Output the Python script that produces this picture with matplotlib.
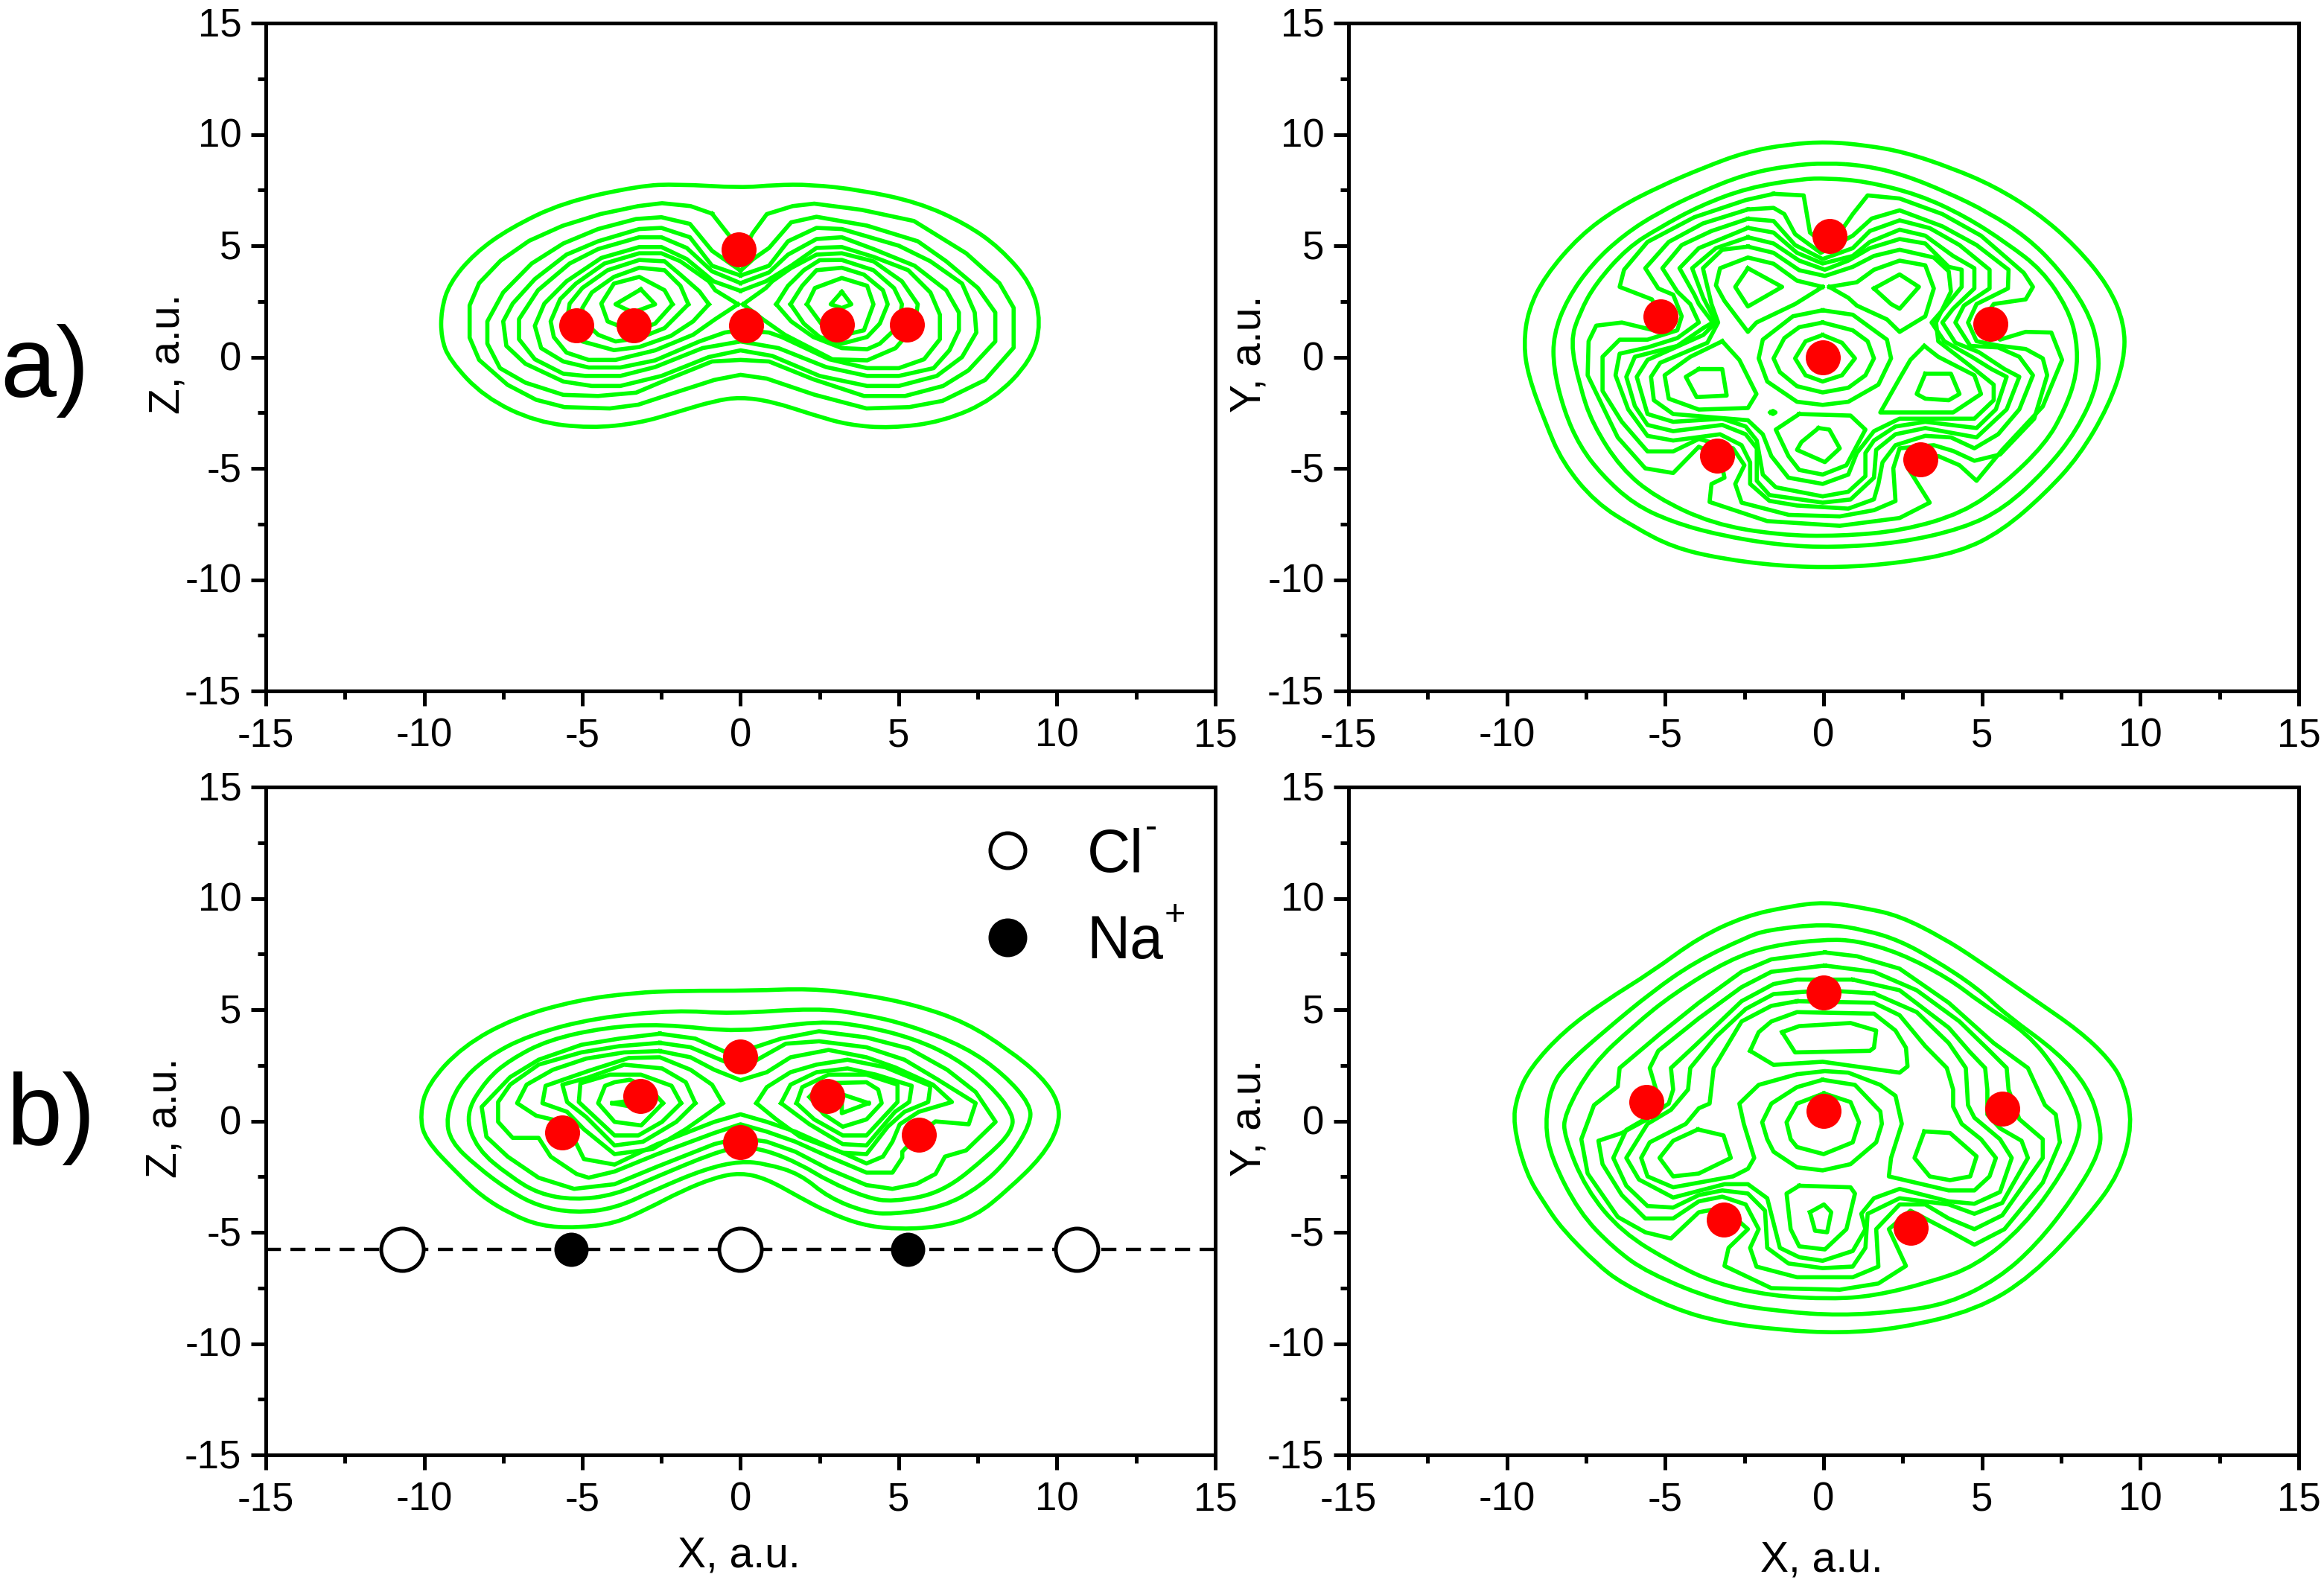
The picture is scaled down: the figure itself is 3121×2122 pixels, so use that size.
import matplotlib
matplotlib.use("Agg")
import matplotlib.pyplot as plt
from matplotlib.ticker import MultipleLocator
from matplotlib.path import Path
from matplotlib.patches import PathPatch
from matplotlib.transforms import ScaledTranslation

plt.rcParams['font.family'] = ['Liberation Sans', 'DejaVu Sans']
plt.rcParams['axes.unicode_minus'] = False

# ---- Contours, (x, y) in a.u. ----
xz_a = [
 [(0,7.6),(-2.0,7.77),(-3.2,7.69),(-5.6,6.95),(-7.3,5.78),(-8.4,4.66),(-9.2,3.32),(-9.46,2.1),(-9.46,0.87),(-9.2,-0.13),(-8.1,-1.8),(-6.46,-2.92),(-4.74,-3.2),(-3.2,-2.97),(-2.0,-2.47),(-0.83,-1.97),(0,-1.8),(1.0,-2.0),(2.3,-2.6),(3.4,-3.05),(4.74,-3.2),(6.4,-2.9),(8.0,-1.9),(9.2,-0.13),(9.5,1.54),(9.2,3.27),(8.2,4.9),(7.1,6.0),(5.6,6.95),(3.8,7.5),(2.2,7.75),(1.1,7.73)],
 [(-0.9,6.44),(-1.58,6.78),(-2.48,6.91),(-3.23,6.78),(-4.43,6.42),(-5.63,5.89),(-6.68,5.22),(-7.58,4.33),(-8.26,3.32),(-8.56,2.32),(-8.56,0.87),(-8.26,-0.13),(-7.36,-1.25),(-6.46,-1.92),(-5.56,-2.25),(-4.13,-2.31),(-3.23,-2.14),(-2.03,-1.58),(-0.83,-1.03),(0,-0.8),(0.83,-0.97),(2.33,-1.69),(3.98,-2.31),(5.33,-2.25),(6.38,-1.97),(7.73,-1.03),(8.63,0.42),(8.63,2.21),(8.18,3.32),(7.13,4.66),(5.48,6.11),(3.83,6.61),(2.33,6.89),(1.65,6.78),(0.83,6.42),(0.38,5.55),(0,4.55),(-0.38,5.5)],
 [(0,3.88),(-0.9,4.77),(-1.6,5.98),(-2.5,6.28),(-3.3,6.2),(-4.5,5.75),(-5.6,5.1),(-6.6,4.2),(-7.5,2.9),(-8.0,1.6),(-8.0,0.6),(-7.6,-0.5),(-6.8,-1.15),(-5.6,-1.7),(-4.5,-1.75),(-3.3,-1.6),(-2.3,-1.0),(-0.9,-0.2),(0,-0.13),(0.9,-0.2),(2.3,-1.0),(3.9,-1.75),(5.2,-1.75),(6.4,-1.3),(7.2,-0.6),(8.05,0.7),(8.05,2.0),(7.5,3.1),(6.5,4.3),(5.6,5.2),(4.0,5.9),(2.4,6.3),(1.6,6.05),(0.9,4.9),(0.4,4.4)],
 [(0,3.66),(-0.9,4.1),(-1.6,5.38),(-2.5,5.8),(-3.2,5.75),(-4.5,5.2),(-5.5,4.6),(-6.5,3.5),(-7.2,2.4),(-7.5,1.6),(-7.4,0.5),(-6.8,-0.3),(-5.6,-1.1),(-4.7,-1.3),(-3.8,-1.3),(-2.5,-0.85),(-1.0,0.0),(0,0.3),(1.0,0.05),(2.5,-0.85),(4.0,-1.3),(5.0,-1.3),(6.2,-0.85),(7.0,0),(7.45,1.1),(7.4,2.0),(7.0,3.3),(6.0,4.3),(5.0,5.0),(3.2,5.75),(2.4,5.8),(1.5,5.2),(0.9,4.1)],
 [(0,3.32),(-0.9,3.85),(-1.7,4.9),(-2.5,5.38),(-3.2,5.38),(-4.5,4.85),(-5.4,4.2),(-6.4,3.0),(-7.0,1.7),(-7.0,0.8),(-6.5,-0.1),(-5.6,-0.75),(-4.9,-0.85),(-3.8,-0.85),(-2.7,-0.45),(-1.2,0.4),(0,0.7),(1.2,0.4),(2.7,-0.45),(4.0,-0.85),(5,-0.85),(6.1,-0.5),(6.6,0.3),(6.9,1.2),(6.9,2.0),(6.5,3.0),(5.5,4.1),(4.2,4.85),(3.2,5.38),(2.4,5.3),(1.5,4.6),(0.9,3.8)],
 [(0,2.97),(-0.85,3.4),(-1.7,4.4),(-2.5,4.94),(-3.2,4.94),(-4.4,4.45),(-5.5,3.4),(-6.2,2.4),(-6.5,1.4),(-6.3,0.4),(-5.6,-0.2),(-4.8,-0.47),(-3.8,-0.47),(-2.7,-0.15),(-1.3,0.7),(-0.5,1.1),(0,1.2),(0.9,1.1),(1.3,0.9),(2.8,-0.1),(4.0,-0.5),(5.0,-0.5),(5.8,-0.1),(6.3,0.8),(6.3,1.9),(6.0,2.9),(5.3,3.9),(4.2,4.5),(3.2,4.94),(2.4,4.9),(1.6,4.1),(0.8,3.4)],
 [(-0.08,2.37),(-0.8,3.0),(-1.0,3.4),(-1.9,4.3),(-2.5,4.66),(-3.2,4.66),(-4.3,4.2),(-5.2,3.3),(-5.7,2.6),(-6.0,1.6),(-5.9,0.9),(-5.5,0.2),(-4.8,-0.13),(-3.95,-0.13),(-2.7,0.3),(-1.5,1.0),(-0.8,1.7)],
 [(0.08,2.37),(0.8,3.1),(1.0,3.4),(1.6,4.0),(2.4,4.6),(3.2,4.66),(4.2,4.3),(5.1,3.4),(5.6,2.37),(5.5,1.4),(4.9,0.4),(4.0,-0.15),(2.9,-0.1),(1.4,1.0),(0.7,1.7)],
 [(-1.0,2.37),(-1.3,2.95),(-1.9,3.7),(-2.4,4.3),(-3.2,4.36),(-4.2,3.9),(-5.0,3.1),(-5.4,2.4),(-5.5,1.5),(-5.0,0.7),(-4.0,0.31),(-3.2,0.45),(-2.2,0.95),(-1.5,1.6)],
 [(1.13,2.37),(1.5,3.2),(2.0,3.9),(2.5,4.35),(3.2,4.36),(4.2,3.9),(4.85,3.1),(5.1,2.37),(5.0,1.4),(4.4,0.6),(4.0,0.35),(3.2,0.4),(2.3,0.9),(1.6,1.6)],
 [(-1.65,2.37),(-1.9,3.2),(-2.4,3.9),(-3.2,4.01),(-4.0,3.6),(-4.7,2.9),(-5.0,2.2),(-4.95,1.6),(-4.5,1.0),(-3.95,0.7),(-3.2,0.85),(-2.4,1.3)],
 [(1.58,2.37),(1.95,3.2),(2.4,3.9),(3.2,4.01),(3.9,3.7),(4.5,3.0),(4.65,2.37),(4.4,1.5),(4.0,0.9),(3.2,0.6),(2.5,0.9),(2,1.5)],
 [(-2.15,2.37),(-2.4,3.0),(-3.2,3.6),(-4.0,3.3),(-4.4,2.4),(-4.2,1.6),(-3.4,1.15),(-2.7,1.5)],
 [(2.1,2.37),(2.35,3.1),(3.2,3.55),(4.0,3.2),(4.2,2.37),(3.9,1.2),(3.3,1.0),(2.6,1.4)],
 [(-3.15,3.04),(-2.7,2.37),(-3.4,2.0),(-3.95,2.37)],
 [(3.2,2.93),(3.5,2.37),(3.2,2.2),(2.85,2.37)],
]
xy_a = [
 [(0.11,9.67),(-1.1,9.56),(-2.46,9.21),(-3.8,8.5),(-5.15,7.68),(-6.5,6.7),(-7.7,5.45),(-8.8,3.63),(-9.33,2.1),(-9.47,0.57),(-9.33,-0.82),(-8.8,-2.9),(-8.25,-4.73),(-7.2,-6.54),(-5.95,-7.66),(-4.75,-8.55),(-3.27,-9.05),(-1.38,-9.39),(0.51,-9.46),(2.4,-9.25),(4.3,-8.76),(5.65,-7.79),(7.0,-6.12),(8.07,-4.45),(9.0,-2.2),(9.5,-0.13),(9.5,1.5),(9.0,3.2),(7.95,5.0),(6.73,6.5),(5.38,7.68),(4.03,8.5),(2.54,9.21),(1.33,9.51)],
 [(0.1,8.72),(-1.1,8.6),(-2.5,8.2),(-3.9,7.4),(-5.2,6.5),(-6.3,5.5),(-7.3,4.2),(-8.1,2.6),(-8.53,1.0),(-8.53,-0.5),(-8.2,-2.4),(-7.7,-4.0),(-7.0,-5.3),(-6.0,-6.6),(-4.8,-7.4),(-3.3,-8.0),(-1.4,-8.45),(0.3,-8.56),(2.4,-8.35),(4.4,-7.7),(5.7,-6.8),(7.0,-5.1),(8.0,-3.3),(8.68,-1.2),(8.68,0.6),(8.3,2.2),(7.4,4.0),(6.4,5.4),(5.2,6.5),(3.9,7.4),(2.5,8.2),(1.3,8.6)],
 [(0.1,8.03),(-0.7,8.0),(-2.4,7.6),(-3.9,6.8),(-5.2,5.8),(-6.2,4.9),(-7.2,3.3),(-7.7,2.0),(-8.0,0.7),(-7.7,-1.3),(-7.3,-3.0),(-6.4,-5.0),(-5.3,-6.3),(-3.5,-7.5),(-1.4,-8.0),(0.5,-8.05),(2.5,-7.8),(4.4,-7.0),(5.7,-5.7),(7.0,-3.9),(7.6,-2.4),(8.0,-0.8),(8.0,0.8),(7.7,2.2),(6.9,3.9),(5.8,5.1),(4.5,6.3),(3.0,7.3),(1.3,7.9)],
 [(-1.58,7.33),(-0.63,7.26),(-0.43,5.59),(0.18,4.9),(0.92,6.42),(1.39,7.26),(2.4,7.12),(3.75,6.42),(4.97,5.45),(6.32,3.78),(6.61,3.15),(6.38,2.59),(5.37,2.38),(4.97,1.55),(5.57,0.78),(6.38,1.13),(7.19,1.1),(7.53,-0.13),(6.92,-2.22),(5.64,-4.17),(4.83,-5.56),(4.29,-4.86),(3.62,-4.45),(2.67,-5.0),(3.35,-6.54),(2.4,-7.23),(0.51,-7.58),(-1.78,-7.37),(-3.6,-6.51),(-3.54,-5.7),(-3.13,-5.42),(-3.27,-4.45),(-3.94,-4.03),(-4.75,-5.21),(-5.63,-5.0),(-6.5,-3.61),(-7.45,-0.82),(-7.42,0.71),(-7.18,1.41),(-6.37,1.55),(-5.36,1.2),(-5.16,1.83),(-5.42,2.59),(-6.44,3.15),(-6.3,3.92),(-5.56,5.17),(-4.08,6.28),(-2.46,7.05)],
 [(-2.39,6.63),(-1.58,6.7),(-1.24,6.42),(-0.9,5.52),(-0.09,4.68),(0.92,5.45),(1.52,6.22),(2.4,6.59),(3.75,5.87),(4.83,5.03),(5.84,3.92),(5.82,3.08),(4.83,2.38),(4.56,1.55),(4.83,0.71),(5.57,0.5),(6.38,0.36),(6.92,-0.06),(7.06,-0.82),(6.65,-2.77),(5.57,-4.38),(4.76,-4.66),(4.09,-4.22),(3.48,-3.96),(2.4,-4.1),(2.2,-5.0),(2.27,-6.47),(1.59,-6.88),(0.51,-7.16),(-1.1,-7.09),(-2.59,-6.54),(-2.79,-5.7),(-2.5,-4.86),(-2.86,-4.1),(-3.94,-3.68),(-4.75,-4.24),(-5.56,-4.24),(-6.37,-2.91),(-6.98,-1.52),(-6.98,0.01),(-6.44,0.78),(-5.56,0.78),(-4.62,1.2),(-4.48,1.83),(-4.75,2.8),(-5.22,3.08),(-5.63,3.99),(-4.89,5.17),(-3.81,6.0)],
 [(-2.39,6.21),(-1.58,6.11),(-0.9,5.03),(-0.03,4.4),(0.92,4.89),(1.46,5.66),(2.4,6.14),(3.35,5.79),(4.29,5.03),(5.24,3.92),(5.24,3.08),(4.43,2.31),(4.16,1.55),(4.63,0.5),(5.51,0.43),(6.18,0.01),(6.61,-0.82),(6.18,-2.35),(5.51,-3.47),(4.76,-4.1),(4.02,-3.61),(3.21,-3.54),(2.27,-3.96),(1.86,-4.73),(1.73,-5.7),(1.59,-6.39),(0.78,-6.81),(-0.84,-6.67),(-1.71,-6.46),(-2.32,-5.7),(-2.32,-4.73),(-2.59,-3.96),(-3.27,-3.47),(-4.75,-3.75),(-5.56,-3.54),(-6.17,-2.35),(-6.57,-0.82),(-6.44,0.15),(-5.56,0.43),(-4.62,0.85),(-3.94,1.55),(-4.21,2.38),(-4.62,2.94),(-5.09,3.99),(-4.48,5.03),(-3.54,5.66)],
 [(-2.39,5.8),(-1.58,5.59),(-0.84,4.68),(-0.03,4.2),(0.92,4.54),(1.46,5.17),(2.4,5.72),(3.21,5.45),(4.09,4.54),(4.76,3.99),(4.76,3.08),(4.09,2.17),(3.75,1.55),(4.16,0.64),(4.9,0.22),(5.71,-0.54),(6.18,-0.89),(5.78,-2.35),(4.83,-3.61),(3.21,-3.19),(2.27,-3.47),(1.66,-4.17),(1.59,-5.42),(0.85,-6.4),(-0.03,-6.54),(-1.71,-6.2),(-2.11,-5.56),(-2.11,-4.1),(-2.46,-3.47),(-3.2,-3.05),(-4.75,-3.33),(-5.56,-3.05),(-5.96,-2.2),(-6.23,-0.89),(-5.96,0.01),(-4.62,0.5),(-3.8,1.3),(-3.5,1.55),(-3.94,2.38),(-4.08,2.8),(-4.55,3.99),(-3.94,4.89)],
 [(-2.39,5.38),(-1.58,5.1),(-0.77,4.33),(0.04,3.92),(0.78,4.33),(1.46,4.89),(2.4,5.3),(3.21,5.1),(3.95,4.05),(4.36,3.92),(4.36,3.15),(3.75,2.1),(3.41,1.55),(3.81,0.71),(4.69,0),(5.3,-0.54),(5.78,-0.89),(5.44,-2.35),(4.83,-3.19),(3.21,-2.91),(2.27,-3.12),(1.59,-3.75),(1.32,-4.31),(1.32,-5.35),(0.78,-6.05),(-0.03,-6.26),(-1.51,-5.85),(-1.92,-5.28),(-2.11,-3.75),(-2.46,-3.12),(-3.2,-2.77),(-4.75,-2.91),(-5.56,-2.56),(-5.9,-0.89),(-5.56,-0.13),(-3.8,0.99),(-3.4,1.55),(-3.8,2.66),(-4.15,3.99),(-3.4,4.89)],
 [(-2.39,4.96),(-1.58,4.68),(-0.77,3.9),(0.04,3.64),(0.92,4.05),(1.59,4.54),(2.4,4.82),(3.48,4.47),(3.95,3.85),(4.02,2.94),(3.55,1.55),(3.62,0.71),(4.76,-0.54),(5.37,-1.24),(5.37,-1.94),(4.76,-2.77),(2.4,-2.77),(1.59,-3.33),(1.05,-4.31),(0.78,-5.28),(-0.03,-5.7),(-1.11,-5.42),(-1.65,-4.45),(-1.92,-3.47),(-2.39,-2.84),(-4.75,-2.56),(-5.36,-1.94),(-5.45,-0.89),(-5.16,-0.26),(-3.67,0.64),(-3.33,1.55),(-3.54,2.38),(-3.81,3.99),(-3.2,4.82)],
 [(-0.03,3.15),(-0.9,2.38),(-2.12,1.55),(-2.39,1.13),(-3.13,2.52),(-3.4,3.22),(-3.27,3.99),(-2.39,4.47),(-1.58,4.19),(-0.84,3.43)],
 [(-2.39,3.99),(-1.31,3.15),(-2.39,2.27),(-2.79,3.15)],
 [(0.18,3.15),(0.78,2.66),(1.05,2.31),(2.0,1.69),(2.4,1.13),(3.21,1.83),(3.48,3.08),(3.21,4.12),(2.4,4.33),(1.59,3.92),(1.05,3.36)],
 [(1.59,3.08),(2.4,3.71),(3.01,3.15),(2.4,2.17),(2.13,2.38)],
 [(3.18,0.5),(3.62,0.01),(4.76,-0.82),(4.97,-1.66),(4.09,-2.49),(1.79,-2.49),(2.4,-0.96),(2.74,-0.13)],
 [(3.21,-0.75),(4.02,-0.75),(4.29,-1.66),(3.95,-1.94),(3.21,-1.87),(2.94,-1.66)],
 [(-3.2,0.71),(-2.66,-0.13),(-2.12,-1.66),(-2.39,-2.29),(-3.94,-2.36),(-4.89,-1.87),(-5.02,-0.82),(-4.21,0.01)],
 [(-3.94,-0.54),(-3.2,-0.54),(-3.06,-1.73),(-4.01,-1.8),(-4.35,-0.89)],
 [(-0.03,2.1),(0.92,1.9),(2.0,0.78),(2.13,-0.06),(1.73,-1.24),(0.78,-2.01),(-0.03,-2.15),(-0.84,-2.01),(-1.78,-1.1),(-2.05,-0.06),(-1.92,0.78),(-0.97,1.83)],
 [(-0.03,1.55),(0.92,1.2),(1.39,0.71),(1.59,-0.06),(1.32,-0.82),(0.78,-1.38),(-0.03,-1.59),(-0.84,-1.31),(-1.38,-0.68),(-1.58,-0.06),(-1.24,0.85),(-0.77,1.34)],
 [(-0.03,0.99),(0.58,0.64),(0.99,-0.06),(0.58,-0.82),(-0.03,-1.1),(-0.57,-0.82),(-0.9,-0.06),(-0.57,0.71)],
 [(-0.77,-2.56),(0.85,-2.63),(1.32,-3.26),(0.72,-4.86),(-0.03,-5.28),(-0.77,-5.07),(-1.11,-4.45),(-1.51,-3.26)],
 [(-0.16,-3.19),(0.18,-3.26),(0.51,-4.1),(0.04,-4.72),(-0.84,-4.17),(-0.7,-3.82)],
 [(-1.68,-2.49),(-1.6,-2.42),(-1.52,-2.49),(-1.6,-2.56)],
]
xz_b = [
 [(-1.88,5.85),(0.38,5.85),(2.18,5.95),(3.83,5.7),(5.56,5.2),(7.13,4.42),(8.48,3.19),(9.53,1.97),(10.06,0.85),(10.06,-0.26),(9.53,-1.6),(8.48,-3.05),(7.43,-4.28),(6.23,-4.78),(4.88,-4.86),(3.83,-4.67),(2.78,-4.11),(1.88,-3.44),(0.83,-2.6),(0,-2.32),(-0.83,-2.55),(-1.88,-3.16),(-2.93,-3.94),(-3.98,-4.61),(-5.18,-4.8),(-6.31,-4.72),(-7.28,-4.17),(-8.18,-3.38),(-8.93,-2.38),(-9.98,-0.82),(-10.13,0.29),(-9.9,1.63),(-8.78,3.36),(-7.13,4.64),(-5.18,5.42),(-3.38,5.76)],
 [(-2.03,4.98),(-0.3,4.81),(2.4,5.07),(3.83,4.81),(5.33,4.31),(7.13,3.31),(8.33,2.08),(9.16,0.74),(9.16,-0.15),(8.48,-1.71),(7.58,-2.94),(6.38,-3.88),(4.8,-4.19),(3.98,-4.11),(2.78,-3.44),(1.88,-2.38),(0.83,-1.93),(0,-1.8),(-1.13,-2.16),(-2.63,-3.05),(-3.98,-3.94),(-5.26,-4.13),(-6.38,-3.83),(-7.28,-3.16),(-8.33,-2.05),(-9.16,-0.93),(-9.31,0.18),(-8.93,1.63),(-8.03,2.86),(-6.68,3.86),(-4.58,4.64)],
 [(-2.48,4.36),(0,3.97),(2.48,4.51),(3.98,4.25),(5.48,3.7),(6.76,2.86),(7.88,1.63),(8.63,0.3),(8.56,-0.48),(7.88,-1.49),(6.38,-3.22),(4.8,-3.64),(3.98,-3.44),(2.78,-2.71),(1.88,-1.93),(0.83,-1.32),(0,-1.15),(-0.83,-1.43),(-2.63,-2.49),(-3.98,-3.33),(-5.26,-3.55),(-6.38,-3.27),(-7.28,-2.49),(-8.33,-1.27),(-8.71,0.3),(-8.03,1.86),(-7.28,2.75),(-6.08,3.64),(-4.28,4.2)],
 [(-2.55,3.92),(-1.43,3.7),(-0.45,3.08),(0.45,3.31),(1.28,3.7),(2.48,4.03),(3.98,3.75),(5.33,3.25),(6.53,2.3),(7.43,1.3),(8.06,-0.04),(7.13,-1.32),(6.46,-1.6),(6.16,-2.38),(5.56,-2.83),(4.8,-3.05),(3.98,-2.88),(2.78,-2.16),(1.73,-1.38),(0.83,-0.93),(0,-0.76),(-0.83,-1.04),(-2.63,-2.05),(-3.98,-2.84),(-5.26,-3.05),(-6.38,-2.55),(-7.36,-1.6),(-8.03,-0.71),(-8.18,0.63),(-7.28,1.97),(-6.38,2.75),(-5.03,3.42),(-3.83,3.7)],
 [(-2.55,3.51),(-1.58,3.31),(-0.45,2.64),(0.45,2.69),(1.43,3.47),(2.48,3.58),(3.98,3.31),(5.18,2.75),(6.23,1.86),(7.43,0.8),(7.21,-0.15),(6.16,-0.02),(5.63,-0.6),(5.11,-1.38),(5.11,-1.65),(4.8,-2.32),(3.98,-2.32),(2.78,-1.6),(1.73,-0.93),(0.83,-0.48),(0,-0.15),(-0.83,-0.54),(-2.63,-1.49),(-3.98,-2.27),(-4.8,-2.55),(-5.18,-2.38),(-6.0,-1.6),(-6.38,-0.76),(-7.2,-0.76),(-7.66,-0.04),(-7.66,0.85),(-7.28,1.63),(-6.38,2.53),(-5.03,3.08),(-3.83,3.36)],
 [(-2.55,3.14),(-1.58,2.86),(-0.83,2.3),(0,1.83),(0.83,2.19),(1.58,2.86),(2.78,3.19),(3.98,2.86),(4.88,2.41),(6.08,1.63),(6.68,0.85),(5.63,0.41),(5.03,-0.15),(4.8,-0.93),(4.5,-1.6),(3.98,-1.91),(2.78,-1.15),(1.73,-0.48),(0.83,-0.04),(0,0.3),(-0.83,-0.04),(-2.63,-1.04),(-3.98,-1.96),(-4.95,-1.71),(-5.18,-1.04),(-5.63,-0.04),(-6.46,0.24),(-7.06,0.8),(-6.76,1.63),(-5.93,2.3),(-4.88,2.8),(-3.68,3.08)],
 [(-0.56,0.8),(-0.9,1.63),(-1.58,2.3),(-2.55,2.86),(-3.53,2.83),(-4.8,2.25),(-6.16,1.58),(-6.26,0.8),(-5.48,0.41),(-4.95,-0.37),(-3.98,-1.49),(-2.78,-1.26),(-1.73,-0.37)],
 [(0.5,0.8),(0.83,1.52),(1.58,2.19),(2.4,2.53),(3.38,2.75),(4.58,2.41),(6.0,1.58),(5.93,0.85),(5.18,0.41),(4.65,-0.26),(3.98,-1.49),(3.23,-1.43),(1.88,-0.71),(1.13,0.07)],
 [(-1.43,0.8),(-1.73,1.74),(-2.48,2.36),(-3.68,2.53),(-4.8,1.96),(-5.63,1.63),(-5.48,0.85),(-4.88,0.18),(-3.98,-1.1),(-3.08,-0.93),(-2.03,-0.04)],
 [(1.28,0.8),(1.58,1.63),(2.4,2.19),(3.38,2.36),(4.28,2.08),(5.41,1.58),(5.33,0.85),(4.88,0.41),(3.98,-1.1),(3.23,-1.04),(2.18,-0.15)],
 [(-1.88,0.8),(-2.18,1.58),(-3.15,2.08),(-4.13,2.08),(-5.06,1.69),(-5.11,0.85),(-3.98,-0.65),(-3.23,-0.65),(-2.48,-0.04)],
 [(1.77,0.8),(1.95,1.52),(2.78,2.08),(3.98,2.08),(4.96,1.63),(4.96,0.85),(3.98,-0.65),(3.23,-0.65),(2.33,0.07)],
 [(-2.45,0.8),(-2.9,1.5),(-3.5,1.85),(-3.98,1.74),(-4.28,1.58),(-4.5,0.8),(-3.98,-0.04),(-3.14,-0.2)],
 [(2.18,1.08),(2.55,1.69),(3.98,1.74),(4.35,1.41),(4.46,0.8),(3.98,0.07),(3.23,-0.26),(2.63,0.3)],
 [(-4.05,0.8),(-3.3,0.95),(-3.3,0.6)],
 [(4.05,0.8),(3.2,1.2),(3.2,0.35)],
]
xy_b = [
 [(0.04,9.84),(-1.11,9.63),(-2.46,9.21),(-3.94,8.24),(-5.42,6.7),(-6.91,5.38),(-8.19,4.05),(-9.27,2.38),(-9.68,1.13),(-9.81,-0.13),(-9.4,-2.35),(-8.8,-3.74),(-8.25,-4.86),(-7.18,-6.4),(-6.37,-7.3),(-4.75,-8.42),(-3.27,-9.04),(-1.38,-9.39),(0.51,-9.53),(2.4,-9.32),(4.83,-8.49),(6.58,-6.97),(8.34,-4.31),(9.35,-2.35),(9.76,-0.13),(9.49,1.69),(9.0,2.8),(8.07,4.05),(6.72,5.38),(4.83,7.26),(3.75,8.24),(2.4,9.21),(1.32,9.56)],
 [(0.04,8.86),(-1.78,8.58),(-2.46,8.24),(-4.08,7.13),(-5.42,5.8),(-6.91,4.05),(-8.13,2.52),(-8.6,1.55),(-8.8,-0.13),(-8.6,-1.66),(-7.72,-4.1),(-6.64,-5.7),(-5.56,-6.82),(-3.27,-8.14),(-1.38,-8.56),(0.51,-8.74),(2.4,-8.56),(3.95,-8.2),(5.5,-7.1),(6.72,-5.56),(7.87,-3.47),(8.74,-1.38),(8.74,-0.13),(8.34,1.55),(7.39,3.08),(5.78,4.75),(4.83,6.0),(3.48,7.26),(2.4,8.1),(1.32,8.58)],
 [(0.04,8.16),(-1.65,7.88),(-2.99,7.24),(-4.75,5.71),(-5.96,4.32),(-7.32,2.52),(-8.19,0.29),(-8.19,-0.68),(-7.51,-3.05),(-6.37,-5.0),(-4.75,-6.4),(-3.4,-7.3),(-1.65,-7.86),(0.24,-8.0),(1.59,-7.86),(3.35,-7.25),(4.83,-6.5),(6.32,-4.73),(7.54,-2.35),(8.08,-0.68),(8.08,0.29),(7.39,2.24),(6.45,3.92),(4.97,5.3),(3.95,6.41),(2.4,7.55),(1.05,8.1)],
 [(0.04,7.57),(-1.65,7.26),(-2.59,6.7),(-3.94,5.31),(-5.16,3.92),(-6.44,2.38),(-6.5,1.55),(-7.25,0.71),(-7.65,-0.82),(-7.45,-2.36),(-6.5,-4.31),(-5.63,-5.0),(-4.82,-5.28),(-3.94,-4.1),(-3.16,-3.89),(-2.39,-4.86),(-3.0,-5.7),(-3.13,-6.51),(-1.65,-7.51),(0.51,-7.58),(1.73,-7.3),(2.6,-6.51),(2.06,-4.86),(2.74,-4.03),(3.95,-4.93),(4.76,-5.56),(5.71,-4.86),(6.92,-2.77),(7.46,-0.96),(7.33,0.29),(6.99,0.71),(6.45,2.38),(5.37,3.5),(3.95,5.31),(2.4,6.84),(1.05,7.4)],
 [(0.04,6.98),(-1.65,6.7),(-2.59,6.01),(-3.94,4.61),(-5.22,3.15),(-5.49,2.38),(-5.29,1.41),(-5.56,0.08),(-6.37,-0.54),(-7.11,-0.89),(-6.98,-1.94),(-6.37,-3.33),(-5.63,-4.38),(-4.75,-4.38),(-3.94,-3.61),(-3.2,-3.4),(-2.46,-3.75),(-2.05,-4.86),(-2.32,-5.7),(-2.12,-6.54),(-0.84,-7.02),(0.92,-7.02),(1.73,-6.54),(1.66,-4.86),(2.4,-3.75),(3.21,-3.75),(3.95,-4.38),(4.76,-4.86),(5.64,-4.24),(6.92,-1.66),(6.92,-0.82),(6.18,0.08),(5.84,1.41),(5.78,2.38),(5.24,3.15),(4.29,4.47),(2.94,5.87),(1.59,6.7)],
 [(0.92,6.35),(-0.84,6.35),(-1.58,6.15),(-2.59,5.38),(-4.08,3.36),(-4.82,2.38),(-4.75,1.41),(-4.89,0.78),(-5.56,0.15),(-6.23,-0.4),(-6.64,-1.66),(-6.23,-2.91),(-5.56,-3.82),(-4.75,-3.89),(-3.94,-3.33),(-3.2,-3.12),(-2.39,-3.26),(-1.85,-4.03),(-1.78,-5.7),(-1.11,-6.4),(-0.03,-6.61),(0.92,-6.54),(1.32,-5.7),(1.39,-4.17),(2.4,-3.47),(3.95,-3.75),(4.76,-4.17),(5.64,-3.68),(6.45,-1.66),(6.25,-0.89),(5.57,-0.33),(5.17,0.29),(5.17,1.41),(5.1,2.38),(4.63,3.08),(3.95,4.19),(2.4,5.87)],
 [(1.59,5.73),(0.04,5.87),(-1.58,5.7),(-2.46,5.03),(-3.4,3.78),(-4.21,2.38),(-4.28,1.41),(-4.82,0.5),(-5.56,-0.13),(-6.23,-1.66),(-5.83,-2.63),(-4.75,-3.44),(-3.13,-2.84),(-2.39,-2.84),(-1.78,-3.47),(-1.38,-5.7),(-0.77,-6.12),(-0.03,-6.28),(0.92,-5.84),(1.32,-4.86),(1.19,-4.17),(1.59,-3.47),(2.4,-3.05),(3.95,-3.61),(4.76,-3.72),(5.57,-3.19),(5.94,-1.66),(5.57,-0.82),(4.76,0.15),(4.56,0.71),(4.49,2.38),(3.95,3.5),(2.94,4.89)],
 [(-0.84,5.38),(1.59,5.31),(2.4,4.75),(3.21,3.36),(3.89,2.38),(4.09,1.41),(4.09,0.64),(4.36,-0.13),(4.97,-0.82),(5.44,-1.66),(5.24,-2.49),(4.76,-3.12),(3.95,-3.12),(2.06,-2.49),(2.13,-1.66),(2.47,-0.13),(2.27,1.13),(1.79,1.62),(0.78,2.17),(0.04,2.24),(-0.84,2.1),(-2.05,1.62),(-2.66,0.78),(-2.52,-0.13),(-2.19,-1.66),(-2.39,-2.15),(-2.86,-2.49),(-4.75,-2.98),(-5.56,-2.49),(-5.76,-1.66),(-5.49,-0.96),(-4.35,-0.13),(-3.94,0.57),(-3.6,0.78),(-3.47,2.38),(-2.59,4.47),(-1.65,5.17)],
 [(-2.32,3.15),(-1.58,2.52),(-0.03,2.66),(2.4,2.17),(2.65,2.45),(2.6,3.29),(2.27,4.06),(1.59,4.82),(-0.84,4.89),(-1.65,4.47),(-2.05,3.99)],
 [(-1.31,3.99),(-0.77,4.26),(0.85,4.4),(1.66,4.06),(1.59,3.29),(1.46,3.15),(-0.9,3.08)],
 [(-3.97,-0.38),(-3.16,-0.65),(-2.93,-1.66),(-3.94,-2.36),(-4.75,-2.49),(-5.18,-1.66),(-4.75,-0.89)],
 [(3.18,-0.47),(3.99,-0.54),(4.83,-1.59),(4.63,-2.49),(3.99,-2.66),(3.35,-2.49),(2.87,-1.66)],
 [(-0.03,1.85),(0.99,1.62),(1.79,0.43),(1.84,-0.13),(1.66,-0.96),(0.85,-1.94),(-0.03,-2.22),(-0.84,-2.08),(-1.58,-1.38),(-1.78,-0.82),(-1.94,-0.06),(-1.65,0.78),(-0.84,1.52)],
 [(0.01,1.24),(0.85,0.85),(1.12,-0.06),(0.92,-0.96),(0,-1.49),(-0.84,-1.17),(-1.04,-0.82),(-1.17,-0.06),(-0.84,0.78)],
 [(-0.77,-2.91),(0.85,-2.98),(0.99,-3.26),(0.72,-4.86),(0.04,-5.77),(-0.77,-5.63),(-1.04,-4.86),(-1.17,-3.26)],
 [(-0.43,-4.1),(0.01,-3.75),(0.24,-4.1),(0.11,-5.0),(-0.27,-4.93)],
]

# ---- Atoms ----
atoms_xz_a = [(-5.18,1.43),(-3.38,1.43),(-0.05,4.83),(0.17,1.43),(3.05,1.45),(5.25,1.45)]
atoms_xy_a = [(0.18,5.45),(5.26,1.49),(-0.03,-0.01),(-5.16,1.83),(-3.37,-4.42),(3.05,-4.61)]
atoms_xz_b = [(-5.63,-0.51),(-3.17,1.11),(0,2.89),(2.73,1.11),(0,-0.95),(5.63,-0.63)]
atoms_xy_b = [(0,5.77),(0,0.46),(-5.6,0.85),(5.64,0.55),(-3.16,-4.44),(2.74,-4.79)]
surface_z = -5.78
cl_x = [-10.7, 0, 10.63]
na_x = [-5.36, 5.29]
ticks = [-15, -10, -5, 0, 5, 10, 15]

W, H = 3121, 2122
fig = plt.figure(figsize=(W/100, H/100), dpi=100, facecolor='white')
FS = 38
LFS = 41
px = 0.72  # points per pixel
GREEN = '#00FF00'
LW = 5.6 * px

def smooth_patch(c):
    # rounds a closed outline with quadratic Bezier segments between edge midpoints
    n = len(c)
    mid = [((c[i][0]+c[(i+1) % n][0])/2, (c[i][1]+c[(i+1) % n][1])/2) for i in range(n)]
    verts = [mid[-1]]
    codes = [Path.MOVETO]
    for i in range(n):
        verts += [c[i], mid[i]]
        codes += [Path.CURVE3, Path.CURVE3]
    return PathPatch(Path(verts, codes), fill=False, edgecolor=GREEN, lw=LW, zorder=2)

def make_axes(l, r, t, b, contours, atoms, n_smooth):
    ax = fig.add_axes([l/W, 1-b/H, (r-l)/W, (b-t)/H])
    ax.set_xlim(-15, 15); ax.set_ylim(-15, 15)
    ax.set_xticks(ticks); ax.set_yticks(ticks)
    ax.xaxis.set_minor_locator(MultipleLocator(2.5))
    ax.yaxis.set_minor_locator(MultipleLocator(2.5))
    ax.tick_params(which='major', direction='out', length=20*px, width=5*px, labelsize=FS)
    ax.tick_params(axis='x', which='major', pad=11)
    ax.tick_params(axis='y', which='major', pad=9)
    ax.tick_params(which='minor', direction='out', length=11*px, width=5*px)
    for s in ax.spines.values():
        s.set_linewidth(5*px)
    for i, c in enumerate(contours):
        if i < n_smooth:
            ax.add_patch(smooth_patch(c))
        else:
            xs = [p[0] for p in c] + [c[0][0]]
            ys = [p[1] for p in c] + [c[0][1]]
            ax.plot(xs, ys, color=GREEN, lw=LW, solid_joinstyle='round', zorder=2)
    ax.plot([a[0] for a in atoms], [a[1] for a in atoms], 'o', color='#FF0000', mec='none', ms=47*px, zorder=4)
    up = ScaledTranslation(0, 2/100, fig.dpi_scale_trans)
    for lbl in ax.get_yticklabels():
        lbl.set_transform(lbl.get_transform() + up)
    return ax

ax1 = make_axes(357, 1632, 31, 928, xz_a, atoms_xz_a, 1)
ax2 = make_axes(1811, 3087, 31, 928, xy_a, atoms_xy_a, 3)
ax3 = make_axes(357, 1632, 1057, 1954, xz_b, atoms_xz_b, 3)
ax4 = make_axes(1811, 3087, 1057, 1954, xy_b, atoms_xy_b, 3)

# ions on the surface
ax3.plot([-15, 15], [surface_z, surface_z], color='k', lw=4.4*px, dashes=(4.6, 2.9), dash_capstyle='butt', zorder=3)
ax3.plot(cl_x, [surface_z]*len(cl_x), 'o', mfc='white', mec='k', mew=5*px, ms=57*px, zorder=5)
ax3.plot(na_x, [surface_z]*len(na_x), 'o', color='k', mec='none', ms=46*px, zorder=5)

# legend
ax3.plot([8.43], [12.16], 'o', mfc='white', mec='k', mew=5*px, ms=47*px, zorder=5)
ax3.plot([8.43], [8.24], 'o', color='k', mec='none', ms=52*px, zorder=5)
ax3.text(10.95, 11.19, 'Cl', fontsize=58, va='baseline', ha='left')
ax3.text(12.79, 12.74, '-', fontsize=35, va='baseline', ha='left')
ax3.text(10.95, 7.31, 'Na', fontsize=58, va='baseline', ha='left')
ax3.text(13.4, 8.81, '+', fontsize=35, va='baseline', ha='left')

def ftext(xp, yp, s, **kw):
    fig.text(xp/W, 1-yp/H, s, **kw)

ftext(225, 475, 'Z, a.u.', fontsize=LFS, rotation=90, ha='center', va='center')
ftext(1678, 475, 'Y, a.u.', fontsize=LFS, rotation=90, ha='center', va='center')
ftext(221, 1501, 'Z, a.u.', fontsize=LFS, rotation=90, ha='center', va='center')
ftext(1678, 1501, 'Y, a.u.', fontsize=LFS, rotation=90, ha='center', va='center')
ftext(992, 2089, 'X, a.u.', fontsize=LFS, ha='center', va='center')
ftext(2446, 2095, 'X, a.u.', fontsize=LFS, ha='center', va='center')
ftext(0, 533, 'a)', fontsize=97, ha='left', va='baseline')
ftext(8, 1537, 'b)', fontsize=97, ha='left', va='baseline')

fig.savefig('out.png', dpi=100)
